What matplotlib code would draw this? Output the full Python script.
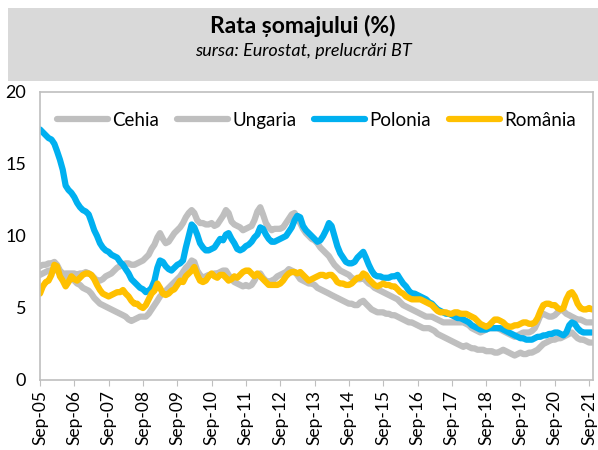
import matplotlib
matplotlib.use("Agg")
import matplotlib.pyplot as plt
import matplotlib.dates as mdates
import pandas as pd

plt.rcParams['font.family'] = ['Lato', 'DejaVu Sans']

# monthly unemployment rate (%), Sep-05 .. Oct-21
cehia = [
    7.9, 8.0, 8.0, 8.1,
    8.1, 8.2, 8.0, 7.6, 7.4, 7.2, 7.1, 7.0, 6.9, 6.7, 6.6, 6.4,
    6.3, 6.2, 6.0, 5.7, 5.5, 5.3, 5.2, 5.1, 5.0, 4.9, 4.8, 4.7,
    4.6, 4.5, 4.4, 4.2, 4.1, 4.2, 4.3, 4.4, 4.4, 4.4, 4.6, 4.9,
    5.2, 5.5, 5.8, 6.0, 6.2, 6.4, 6.6, 6.8, 7.0, 7.2, 7.5, 7.8,
    8.0, 8.3, 8.2, 7.6, 7.3, 7.1, 7.2, 7.3, 7.3, 7.4, 7.4, 7.5,
    7.6, 7.6, 7.3, 7.0, 6.8, 6.7, 6.6, 6.5, 6.6, 6.5, 6.6, 6.9,
    7.3, 7.4, 7.1, 6.9, 6.8, 6.9, 7.0, 7.2, 7.3, 7.4, 7.5, 7.7,
    7.6, 7.5, 7.3, 7.0, 6.9, 6.8, 6.7, 6.7, 6.6, 6.4, 6.3, 6.2,
    6.1, 6.0, 5.9, 5.8, 5.7, 5.6, 5.5, 5.4, 5.3, 5.3, 5.2, 5.2,
    5.4, 5.5, 5.3, 5.1, 4.9, 4.8, 4.7, 4.7, 4.7, 4.6, 4.6, 4.5,
    4.5, 4.4, 4.3, 4.2, 4.1, 4.0, 4.0, 3.9, 3.8, 3.7, 3.6, 3.6,
    3.6, 3.5, 3.4, 3.2, 3.1, 3.0, 2.9, 2.8, 2.7, 2.6, 2.5, 2.4,
    2.3, 2.4, 2.3, 2.2, 2.2, 2.1, 2.1, 2.1, 2.0, 2.0, 2.0, 1.9,
    1.9, 2.0, 2.1, 2.0, 1.9, 1.8, 1.7, 1.8, 1.9, 1.8, 1.8, 1.9,
    1.9, 2.0, 2.1, 2.3, 2.5, 2.6, 2.7, 2.8, 2.8, 2.9, 2.9, 3.0,
    3.1, 3.2, 3.3, 3.1, 2.9, 2.8, 2.8, 2.7, 2.6, 2.6,
]
ungaria = [
    7.3, 7.4, 7.5, 7.6,
    7.6, 7.8, 7.6, 7.4, 7.3, 7.4, 7.4, 7.4, 7.4, 7.3, 7.4, 7.4,
    7.5, 7.4, 7.3, 7.1, 6.9, 6.9, 7.0, 7.2, 7.3, 7.4, 7.6, 7.8,
    7.9, 8.0, 8.1, 8.1, 8.0, 8.0, 8.1, 8.2, 8.3, 8.5, 8.7, 9.1,
    9.4, 9.9, 10.2, 9.8, 9.5, 9.6, 9.9, 10.2, 10.4, 10.6, 10.9, 11.3,
    11.6, 11.8, 11.6, 11.1, 10.9, 10.9, 10.8, 10.8, 10.9, 10.7, 10.8, 11.1,
    11.4, 11.8, 11.6, 11.0, 10.8, 10.7, 10.6, 10.4, 10.5, 10.6, 10.7, 11.1,
    11.7, 12.0, 11.5, 10.9, 10.6, 10.4, 10.5, 10.5, 10.5, 10.6, 10.9, 11.2,
    11.5, 11.6, 11.2, 10.9, 10.5, 10.2, 10.0, 9.8, 9.7, 9.5, 9.2, 9.0,
    8.8, 8.6, 8.3, 8.0, 7.8, 7.6, 7.5, 7.4, 7.3, 7.1, 7.0, 7.0,
    7.0, 7.1, 6.9, 6.7, 6.6, 6.4, 6.3, 6.2, 6.1, 6.0, 5.9, 5.8,
    5.7, 5.6, 5.4, 5.2, 5.1, 5.0, 4.9, 4.8, 4.7, 4.6, 4.5, 4.4,
    4.4, 4.4, 4.3, 4.2, 4.1, 4.0, 4.0, 4.0, 4.0, 4.0, 4.0, 4.0,
    4.0, 3.9, 3.8, 3.6, 3.5, 3.4, 3.3, 3.4, 3.5, 3.6, 3.6, 3.6,
    3.6, 3.5, 3.4, 3.3, 3.2, 3.1, 3.0, 3.1, 3.2, 3.3, 3.3, 3.3,
    3.4, 3.6, 4.0, 4.5, 4.6, 4.5, 4.4, 4.4, 4.5, 4.7, 4.9, 4.8,
    4.6, 4.5, 4.4, 4.3, 4.2, 4.2, 4.1, 4.0, 4.0, 4.0,
]
polonia = [
    17.4, 17.2, 17.0, 16.8,
    16.7, 16.4, 15.9, 15.3, 14.6, 13.5, 13.2, 13.0, 12.7, 12.3, 12.0, 11.8,
    11.7, 11.5, 11.0, 10.4, 10.0, 9.5, 9.2, 9.0, 8.9, 8.7, 8.6, 8.5,
    8.2, 8.0, 7.7, 7.4, 7.0, 6.8, 6.6, 6.4, 6.3, 6.1, 6.2, 6.4,
    6.9, 7.8, 8.3, 8.2, 7.9, 7.7, 7.6, 7.8, 8.0, 8.1, 8.3, 9.2,
    10.0, 10.8, 10.6, 10.1, 9.5, 9.2, 9.0, 9.0, 9.1, 9.2, 9.5, 9.8,
    9.7, 10.1, 10.2, 9.8, 9.5, 9.1, 9.0, 9.1, 9.3, 9.4, 9.6, 9.9,
    10.1, 10.6, 10.5, 10.1, 9.8, 9.6, 9.6, 9.7, 9.8, 9.9, 10.0, 10.3,
    10.6, 11.1, 11.4, 11.3, 10.7, 10.4, 10.2, 10.0, 9.8, 9.6, 9.7, 10.0,
    10.4, 10.9, 10.7, 10.0, 9.3, 8.8, 8.5, 8.2, 8.1, 8.1, 8.2, 8.5,
    8.7, 8.9, 8.5, 8.0, 7.6, 7.3, 7.2, 7.2, 7.1, 7.1, 7.1, 7.2,
    7.2, 7.3, 7.0, 6.7, 6.5, 6.2, 6.0, 6.0, 5.9, 5.8, 5.7, 5.6,
    5.4, 5.3, 5.1, 4.9, 4.8, 4.7, 4.6, 4.6, 4.5, 4.4, 4.3, 4.3,
    4.2, 4.1, 4.0, 3.8, 3.7, 3.6, 3.5, 3.5, 3.5, 3.6, 3.6, 3.6,
    3.6, 3.6, 3.5, 3.4, 3.3, 3.2, 3.1, 3.0, 2.9, 2.9, 2.8, 2.8,
    2.8, 2.9, 3.0, 3.0, 3.1, 3.1, 3.2, 3.2, 3.3, 3.3, 3.2, 3.1,
    3.3, 3.8, 4.0, 3.9, 3.6, 3.4, 3.3, 3.3, 3.3, 3.3,
]
romania = [
    6.0, 6.5, 6.8, 6.9,
    7.3, 8.0, 7.9, 7.2, 6.9, 6.5, 6.8, 7.2, 7.0, 6.9, 7.1, 7.3,
    7.4, 7.4, 7.3, 7.0, 6.6, 6.25, 6.0, 5.9, 5.8, 5.9, 6.0, 6.1,
    6.1, 6.25, 6.0, 5.8, 5.5, 5.3, 5.3, 5.1, 5.0, 5.2, 5.6, 6.0,
    6.2, 6.7, 6.4, 6.0, 5.9, 6.0, 6.2, 6.3, 6.6, 6.9, 6.8, 7.2,
    7.4, 7.6, 7.85, 7.3, 6.9, 6.8, 6.9, 7.2, 7.4, 7.2, 7.1, 7.3,
    7.3, 7.1, 6.9, 7.0, 7.2, 7.1, 7.3, 7.5, 7.6, 7.6, 7.4, 7.2,
    7.4, 7.2, 7.0, 6.8, 6.6, 6.6, 6.6, 6.6, 6.7, 6.9, 7.2, 7.4,
    7.5, 7.5, 7.4, 7.5, 7.3, 7.1, 6.9, 7.0, 7.1, 7.2, 7.3, 7.3,
    7.2, 7.3, 7.3, 7.1, 6.8, 6.7, 6.7, 6.6, 6.6, 6.7, 6.9, 7.1,
    7.1, 7.4, 7.3, 7.0, 6.8, 6.6, 6.5, 6.6, 6.7, 6.6, 6.6, 6.5,
    6.5, 6.3, 6.1, 6.0, 5.8, 5.7, 5.6, 5.6, 5.6, 5.6, 5.5, 5.4,
    5.3, 5.2, 5.0, 4.8, 4.7, 4.7, 4.7, 4.6, 4.6, 4.7, 4.7, 4.6,
    4.6, 4.6, 4.5, 4.4, 4.3, 4.1, 3.9, 3.8, 3.7, 3.8, 4.0, 4.2,
    4.2, 4.1, 4.0, 3.8, 3.7, 3.7, 3.8, 3.8, 3.9, 4.0, 4.0, 3.9,
    3.9, 4.0, 4.3, 4.8, 5.2, 5.3, 5.3, 5.2, 5.2, 5.0, 4.9, 5.0,
    5.6, 6.0, 6.1, 5.8, 5.3, 5.0, 4.9, 4.9, 5.0, 4.9,
]
labels = ['Cehia', 'Ungaria', 'Polonia', 'România']
colors = ['#bfbfbf', '#bfbfbf', '#00b0f0', '#ffc000']

dates = pd.date_range('2005-09-01', periods=len(cehia), freq='MS')

fig = plt.figure(figsize=(5.98, 4.5), dpi=100)

# grey title band
band = fig.add_axes([8 / 598, 1 - 81 / 450, 590 / 598, 73 / 450])
band.set_facecolor('#d9d9d9')
band.set_xticks([])
band.set_yticks([])
for s in band.spines.values():
    s.set_visible(False)
band.text(0.5, 0.76, 'Rata șomajului (%)', ha='center', va='center',
          fontsize=16.5, fontweight='bold', transform=band.transAxes)
band.text(0.5, 0.41, 'sursa: Eurostat, prelucrări BT', ha='center', va='center',
          fontsize=13, style='italic', transform=band.transAxes)

ax = fig.add_axes([40 / 598, 1 - 380 / 450, 553 / 598, 288 / 450])
for vals, lab, col in zip([cehia, ungaria, polonia, romania], labels, colors):
    ax.plot(dates, vals, color=col, lw=4.5, label=lab, solid_capstyle='round')

ax.set_ylim(0, 20)
ax.set_yticks([0, 5, 10, 15, 20])
ax.set_xlim(pd.Timestamp('2005-09-01'), pd.Timestamp('2021-10-12'))
ax.xaxis.set_major_locator(mdates.MonthLocator(bymonth=9))
ax.xaxis.set_major_formatter(mdates.DateFormatter('%b-%y'))
ax.tick_params(axis='x', rotation=90, labelsize=12.5, length=4, color='#bfbfbf', pad=3)
ax.tick_params(axis='y', labelsize=13, length=0, pad=10)
for s in ax.spines.values():
    s.set_color('#bfbfbf')
    s.set_linewidth(1.2)

ax.legend(loc='upper center', bbox_to_anchor=(0.5, 1.0), ncol=4, frameon=False,
          fontsize=13.5, handlelength=2.7, handletextpad=0.25, columnspacing=0.95,
          borderaxespad=0.65)

fig.savefig('out.png', dpi=100)
